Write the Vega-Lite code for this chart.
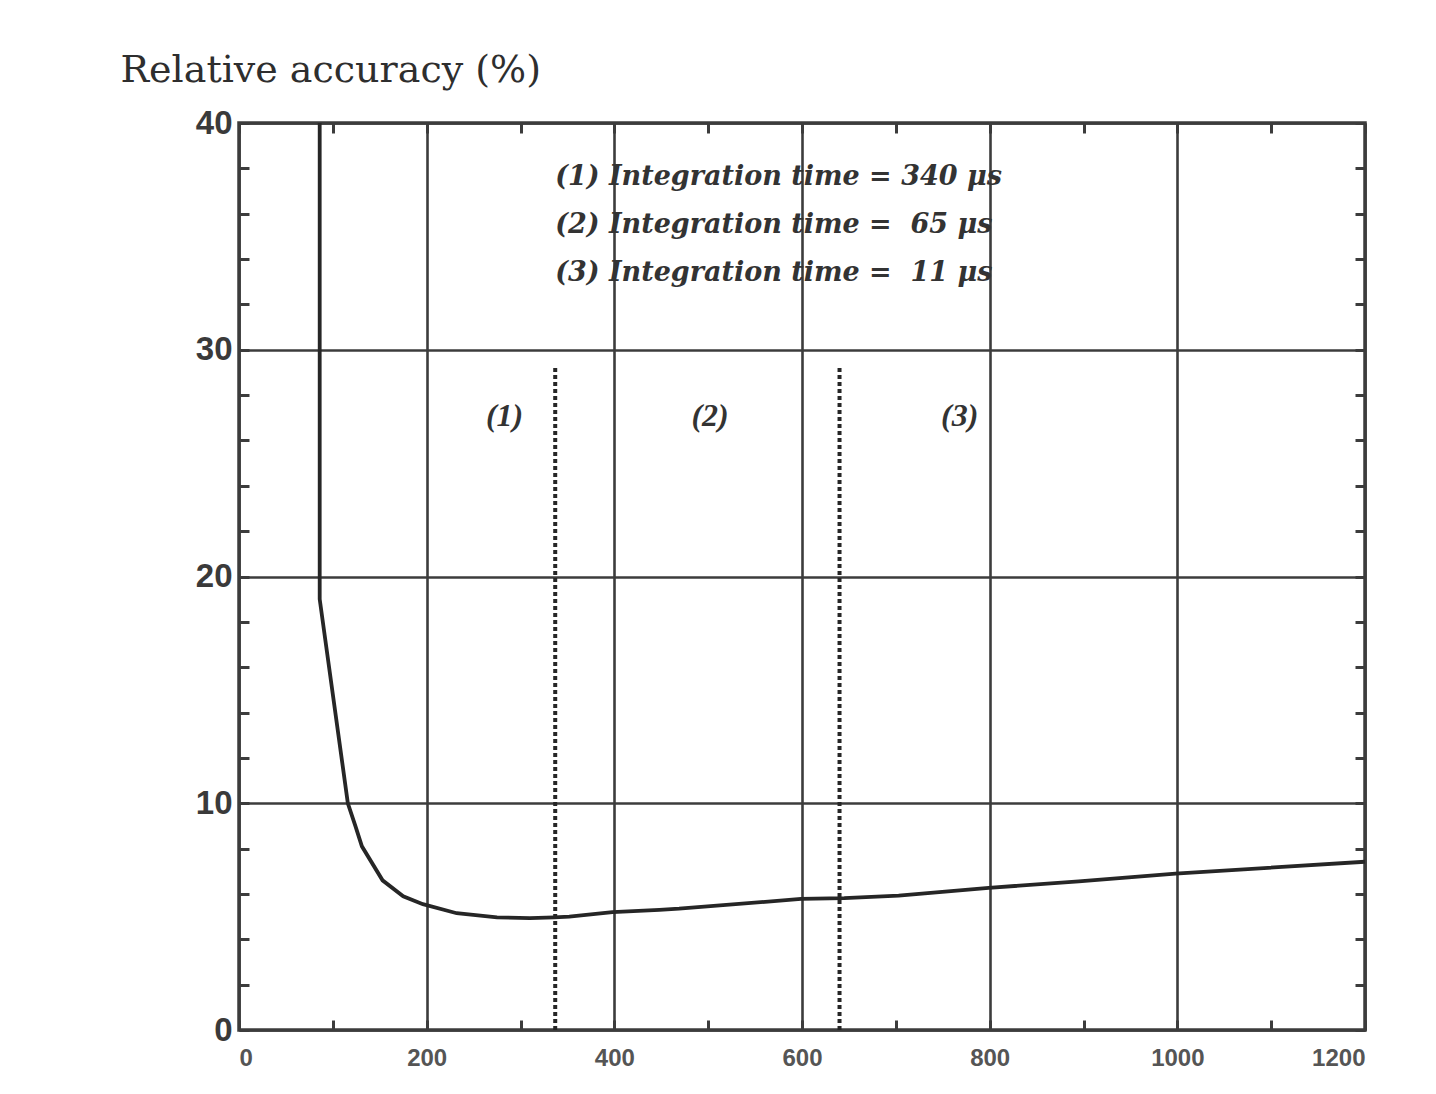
{
  "$schema": "https://vega.github.io/schema/vega-lite/v6.json",
  "width": 1126,
  "height": 907,
  "autosize": {"type": "none"},
  "padding": {"left": 239, "top": 123, "right": 71, "bottom": 64},
  "background": "#ffffff",
  "config": {
    "view": {"stroke": "#3c3c3c", "strokeWidth": 3.5},
    "axis": {"domain": false, "labelFont": "Liberation Sans", "labelFontWeight": "bold", "labelColor": "#3a3a3a"}
  },
  "datasets": {
    "curve": [
      {"t": 86, "acc": 40}, {"t": 86, "acc": 19}, {"t": 116, "acc": 10}, {"t": 124, "acc": 9.0},
      {"t": 131, "acc": 8.1}, {"t": 153, "acc": 6.6}, {"t": 175, "acc": 5.9}, {"t": 196, "acc": 5.55},
      {"t": 232, "acc": 5.15}, {"t": 275, "acc": 4.97}, {"t": 310, "acc": 4.93}, {"t": 336, "acc": 4.97},
      {"t": 352, "acc": 5.0}, {"t": 398, "acc": 5.2}, {"t": 448, "acc": 5.3}, {"t": 469, "acc": 5.35},
      {"t": 599, "acc": 5.78}, {"t": 645, "acc": 5.82}, {"t": 703, "acc": 5.93}, {"t": 799, "acc": 6.27},
      {"t": 895, "acc": 6.55}, {"t": 998, "acc": 6.9}, {"t": 1200, "acc": 7.42}
    ],
    "bounds": [
      {"t": 337, "lo": 0, "hi": 29.2},
      {"t": 640, "lo": 0, "hi": 29.2}
    ],
    "zones": [
      {"t": 283, "acc": 27.1, "label": "(1)"},
      {"t": 502, "acc": 27.1, "label": "(2)"},
      {"t": 768, "acc": 27.1, "label": "(3)"}
    ],
    "legend": [
      {"t": 337, "acc": 37.6, "label": "(1) Integration time = 340 μs"},
      {"t": 337, "acc": 35.5, "label": "(2) Integration time =\u00a0 65 μs"},
      {"t": 337, "acc": 33.4, "label": "(3) Integration time =\u00a0 11 μs"}
    ]
  },
  "layer": [
    {
      "data": {"name": "curve"},
      "mark": {"type": "line", "color": "#262626", "strokeWidth": 3.8, "clip": true},
      "encoding": {
        "x": {
          "field": "t", "type": "quantitative",
          "scale": {"domain": [0, 1200], "nice": false, "zero": false},
          "axis": {
            "orient": "bottom", "values": [0, 200, 400, 600, 800, 1000, 1200], "format": "d",
            "grid": true, "gridColor": "#3c3c3c", "gridWidth": 2.6, "gridOpacity": 1,
            "ticks": false, "labels": true, "labelFontSize": 24, "labelPadding": 16,
            "labelColor": "#555555", "title": null
          }
        },
        "y": {
          "field": "acc", "type": "quantitative",
          "scale": {"domain": [0, 40], "nice": false},
          "axis": {
            "orient": "left", "values": [0, 10, 20, 30, 40],
            "grid": true, "gridColor": "#3c3c3c", "gridWidth": 2.6, "gridOpacity": 1,
            "ticks": false, "labelFontSize": 33, "labelPadding": 7,
            "title": "Relative accuracy (%)", "titleAngle": 0, "titleAlign": "left",
            "titleBaseline": "alphabetic", "titleX": -119, "titleY": -42,
            "titleFont": "DejaVu Serif", "titleFontSize": 38, "titleFontWeight": "normal",
            "titleColor": "#2e2e2e"
          }
        }
      }
    },
    {
      "data": {"name": "bounds"},
      "mark": {"type": "rule", "color": "#262626", "strokeWidth": 4, "strokeDash": [4, 3]},
      "encoding": {
        "x": {
          "field": "t", "type": "quantitative",
          "axis": {
            "orient": "top", "values": [0, 100, 200, 300, 400, 500, 600, 700, 800, 900, 1000, 1100, 1200],
            "grid": false, "labels": false, "ticks": true, "tickSize": -10, "tickWidth": 3,
            "tickColor": "#3c3c3c", "title": null
          }
        },
        "y": {
          "field": "lo", "type": "quantitative",
          "axis": {
            "orient": "right", "values": [0, 2, 4, 6, 8, 10, 12, 14, 16, 18, 20, 22, 24, 26, 28, 30, 32, 34, 36, 38, 40],
            "grid": false, "labels": false, "ticks": true, "tickSize": -10, "tickWidth": 3,
            "tickColor": "#3c3c3c", "title": null
          }
        },
        "y2": {"field": "hi"}
      }
    },
    {
      "data": {"name": "zones"},
      "mark": {"type": "text", "font": "Liberation Serif", "fontStyle": "italic", "fontWeight": "bold", "fontSize": 32, "color": "#333333", "align": "center", "baseline": "middle"},
      "encoding": {
        "x": {
          "field": "t", "type": "quantitative",
          "axis": {
            "orient": "bottom", "values": [0, 100, 200, 300, 400, 500, 600, 700, 800, 900, 1000, 1100, 1200],
            "grid": false, "labels": false, "ticks": true, "tickSize": -10, "tickWidth": 3,
            "tickColor": "#3c3c3c", "title": null
          }
        },
        "y": {
          "field": "acc", "type": "quantitative",
          "axis": {
            "orient": "left", "values": [0, 2, 4, 6, 8, 10, 12, 14, 16, 18, 20, 22, 24, 26, 28, 30, 32, 34, 36, 38, 40],
            "grid": false, "labels": false, "ticks": true, "tickSize": -10, "tickWidth": 3,
            "tickColor": "#3c3c3c", "title": null
          }
        },
        "text": {"field": "label"}
      }
    },
    {
      "data": {"name": "legend"},
      "mark": {"type": "text", "font": "DejaVu Serif", "fontStyle": "italic", "fontWeight": "bold", "fontSize": 27, "color": "#333333", "align": "left", "baseline": "middle"},
      "encoding": {
        "x": {"field": "t", "type": "quantitative", "axis": null},
        "y": {"field": "acc", "type": "quantitative", "axis": null},
        "text": {"field": "label"}
      }
    }
  ]
}
